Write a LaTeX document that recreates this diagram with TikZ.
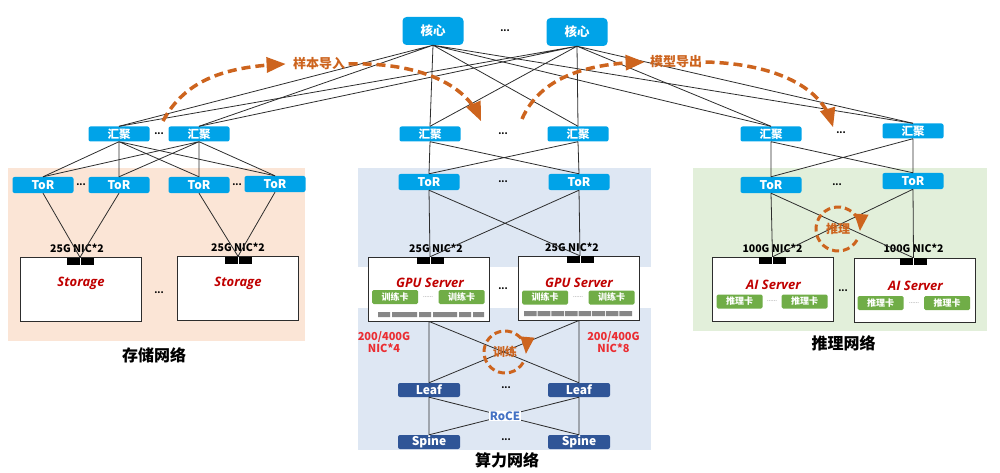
\documentclass[tikz,border=0pt]{standalone}
\usepackage{fontspec}
\setmainfont{Noto Sans CJK SC}
\newfontfamily\srvfont{Open Sans}
\usetikzlibrary{shapes.geometric, arrows, positioning}

\definecolor{swblue}{RGB}{0,163,232}
\definecolor{leafblue}{RGB}{47,85,151}
\definecolor{flowor}{RGB}{205,100,30}
\definecolor{stobg}{RGB}{251,229,214}
\definecolor{gpubg}{RGB}{222,231,243}
\definecolor{aibg}{RGB}{226,239,218}
\definecolor{cardgr}{RGB}{112,173,71}
\definecolor{srvred}{RGB}{192,0,0}
\definecolor{nicred}{RGB}{235,45,50}
\definecolor{roceblue}{RGB}{68,114,196}
\definecolor{portgray}{RGB}{135,135,135}
\definecolor{linkgray}{RGB}{45,45,45}

\tikzstyle{core} = [rectangle, fill=swblue, rounded corners=4pt, minimum width=61pt, minimum height=28pt, inner sep=0pt, text=white, font=\bfseries\fontsize{12.5}{13}\selectfont]
\tikzstyle{agg} = [rectangle, fill=swblue, rounded corners=2pt, minimum width=61pt, minimum height=15pt, inner sep=0pt, text=white, font=\bfseries\fontsize{11.5}{12}\selectfont]
\tikzstyle{tor} = [agg, minimum height=16pt, font=\bfseries\fontsize{12}{12}\selectfont]
\tikzstyle{fabric} = [agg, fill=leafblue, minimum width=62pt, minimum height=14pt, font=\bfseries\fontsize{12}{12}\selectfont]
\tikzstyle{server} = [rectangle, draw=linkgray, line width=0.9pt, fill=white, minimum width=121pt, minimum height=64pt]
\tikzstyle{nic} = [rectangle, fill=black, minimum width=27pt, minimum height=7pt, inner sep=0pt, path picture={\draw[white, line width=1pt] (path picture bounding box.north) -- (path picture bounding box.south);}]
\tikzstyle{card} = [rectangle, fill=cardgr, rounded corners=1.5pt, minimum width=46pt, minimum height=14pt, inner sep=0pt, text=white, font=\bfseries\fontsize{9}{9}\selectfont]
\tikzstyle{srvname} = [inner sep=0pt, text=srvred, font=\srvfont\bfseries\itshape\fontsize{13}{14}\selectfont]
\tikzstyle{niclabel} = [inner sep=0pt, font=\bfseries\fontsize{10.5}{10.5}\selectfont]
\tikzstyle{speed} = [inner sep=0pt, align=center, text=nicred, font=\bfseries\fontsize{11}{12}\selectfont]
\tikzstyle{ellip} = [inner sep=0pt, font=\bfseries\fontsize{9}{9}\selectfont]
\tikzstyle{carddots} = [inner sep=0pt, text=black!60, font=\fontsize{6}{6}\selectfont]
\tikzstyle{nettitle} = [font=\bfseries\fontsize{16}{16}\selectfont]
\tikzstyle{link} = [draw=linkgray, line width=0.8pt]
\tikzstyle{flow} = [draw=flowor, line width=3.5pt, dash pattern=on 9pt off 5pt, -triangle 45]
\tikzstyle{loop} = [draw=flowor, line width=3pt, dash pattern=on 7pt off 4pt, -triangle 45]
\tikzstyle{flowlabel} = [text=flowor, font=\bfseries\fontsize{13}{13}\selectfont]
\tikzstyle{port} = [fill=portgray]

\begin{document}
\begin{tikzpicture}[x=1pt, y=-1pt]
\useasboundingbox (0,0) rectangle (1000,473);

    % Network areas
    \fill[stobg] (8,168) rectangle (305,341);
    \fill[gpubg] (358,168) rectangle (651,267);
    \fill[gpubg] (358,308) rectangle (651,450);
    \fill[aibg] (693,168) rectangle (987,331);

    % Core
    \node (core1) [core] at (433,31) {核心};
    \node (core2) [core] at (577,32) {核心};
    \node (coredots) [ellip] at (505,31) {...};

    % Aggregation
    \node (aggS1) [agg] at (119,134) {汇聚};
    \node (aggS2) [agg] at (199,134) {汇聚};
    \node (aggG1) [agg] at (430,134) {汇聚};
    \node (aggG2) [agg] at (578,134) {汇聚};
    \node (aggA1) [agg] at (771,134) {汇聚};
    \node (aggA2) [agg] at (913,131) {汇聚};
    \node [ellip] at (159,134) {...};
    \node [ellip] at (503,134) {...};
    \node [ellip] at (841,133) {...};

    % ToR
    \node (torS1) [tor] at (43,185) {ToR};
    \node (torS2) [tor] at (119,185) {ToR};
    \node (torS3) [tor] at (199,185) {ToR};
    \node (torS4) [tor] at (275,184) {ToR};
    \node (torG1) [tor] at (429,182) {ToR};
    \node (torG2) [tor] at (579,182) {ToR};
    \node (torA1) [tor] at (771,185) {ToR};
    \node (torA2) [tor] at (913,181) {ToR};
    \node [ellip] at (81,185) {...};
    \node [ellip] at (237,185) {...};
    \node [ellip] at (503,182) {...};
    \node [ellip] at (837,185) {...};

    % Storage servers
    \node (sto1) [server] at (81,289.5) {};
    \node (sto2) [server] at (238,288.5) {};
    \node (nS1) [nic] at (80,261) {};
    \node (nS2) [nic] at (238,260) {};
    \node [niclabel, above=4pt of nS1, xshift=-3pt] {25G NIC*2};
    \node [niclabel, above=4pt of nS2] {25G NIC*2};
    \node [srvname] at (81,283) {Storage};
    \node [srvname] at (238,283) {Storage};
    \node [ellip] at (159,293) {...};

    % GPU servers
    \node (gS1) [server] at (429,289) {};
    \node (gS2) [server] at (579,288) {};
    \node (nG1) [nic] at (430,260.5) {};
    \node (nG2) [nic] at (580,259.5) {};
    \node [niclabel, above=4pt of nG1, xshift=6pt] {25G NIC*2};
    \node [niclabel, above=4pt of nG2, xshift=-8pt] {25G NIC*2};
    \node [srvname] at (430,283) {GPU Server};
    \node [srvname] at (579,283) {GPU Server};
    \node (cG1a) [card] at (395,297) {训练卡};
    \node (cG1b) [card] at (461.5,297) {训练卡};
    \node (cG2a) [card] at (545,297.5) {训练卡};
    \node (cG2b) [card] at (611.5,297.5) {训练卡};
    \node [carddots] at (428,297) {......};
    \node [carddots] at (578,297.5) {......};
    \node [ellip] at (503,289) {...};
    \fill[port] (378,312) rectangle (390,317) (392,312) rectangle (417,317)
        (419,312) rectangle (431,317) (433,312) rectangle (457,317)
        (459,312) rectangle (471,317) (473,312) rectangle (484,317);
    \fill[port] (524,311) rectangle (536.6,316) (537.6,311) rectangle (550.3,316)
        (551.3,311) rectangle (563.9,316) (564.9,311) rectangle (577.5,316)
        (578.5,311) rectangle (591.1,316) (592.1,311) rectangle (604.8,316)
        (605.8,311) rectangle (618.4,316) (619.4,311) rectangle (632,316);
    \node [speed] at (384,342) {200/400G\\NIC*4};
    \node [speed] at (613.5,342) {200/400G\\NIC*8};

    % Leaf and Spine
    \node (leaf1) [fabric] at (429,390) {Leaf};
    \node (leaf2) [fabric] at (579,390) {Leaf};
    \node (spine1) [fabric] at (429,442) {Spine};
    \node (spine2) [fabric] at (579,442) {Spine};
    \node [ellip] at (506,388) {...};
    \node [ellip] at (506,440) {...};

    % AI servers
    \node (aS1) [server] at (772.5,289) {};
    \node (aS2) [server] at (914.5,290) {};
    \node (nA1) [nic] at (772.5,260.5) {};
    \node (nA2) [nic] at (913.5,261.5) {};
    \node [niclabel, above=4pt of nA1] {100G NIC*2};
    \node [niclabel, above=5pt of nA2] {100G NIC*2};
    \node [srvname] at (773.5,285) {AI Server};
    \node [srvname] at (915.5,286) {AI Server};
    \node (cA1a) [card] at (739.5,301.5) {推理卡};
    \node (cA1b) [card] at (804.5,301.5) {推理卡};
    \node (cA2a) [card] at (880.5,303) {推理卡};
    \node (cA2b) [card] at (947,303) {推理卡};
    \node [carddots] at (772,301.5) {......};
    \node [carddots] at (914,303) {......};
    \node [ellip] at (843,291) {...};

    % Network titles
    \node (tS) [nettitle] at (154,355) {存储网络};
    \node (tG) [nettitle] at (507,460) {算力网络};
    \node (tA) [nettitle] at (843.5,343) {推理网络};

    % Core to aggregation
    \draw [link] (core1.south) -- (aggS1.north) (core1.south) -- (aggS2.north)
        (core1.south) -- (aggG1.north) (core1.south) -- (aggG2.north)
        (core1.south) -- (aggA1.north) (core1.south) -- (aggA2.north);
    \draw [link] (core2.south) -- (aggS1.north) (core2.south) -- (aggS2.north)
        (core2.south) -- (aggG1.north) (core2.south) -- (aggG2.north)
        (core2.south) -- (aggA1.north) (core2.south) -- (aggA2.north);

    % Aggregation to ToR
    \draw [link] (aggS1.south) -- (torS1.north) (aggS1.south) -- (torS2.north)
        (aggS1.south) -- (torS3.north) (aggS1.south) -- (torS4.north);
    \draw [link] (aggS2.south) -- (torS1.north) (aggS2.south) -- (torS2.north)
        (aggS2.south) -- (torS3.north) (aggS2.south) -- (torS4.north);
    \draw [link] (aggG1.south) -- (torG1.north) (aggG1.south) -- (torG2.north)
        (aggG2.south) -- (torG1.north) (aggG2.south) -- (torG2.north);
    \draw [link] (aggA1.south) -- (torA1.north) (aggA1.south) -- (torA2.north)
        (aggA2.south) -- (torA1.north) (aggA2.south) -- (torA2.north);

    % ToR to servers
    \draw [link] (torS1.south) -- (nS1.north) (torS2.south) -- (nS1.north)
        (torS3.south) -- (nS2.north) (torS4.south) -- (nS2.north);
    \draw [link] (torG1.south) -- (nG1.north) (torG1.south) -- (nG2.north)
        (torG2.south) -- (nG1.north) (torG2.south) -- (nG2.north);
    \draw [link] (torA1.south) -- (nA1.north) (torA1.south) -- (nA2.north)
        (torA2.south) -- (nA1.north) (torA2.south) -- (nA2.north);

    % GPU servers to Leaf, Leaf to Spine
    \draw [link] (gS1.south) -- (leaf1.north) (gS1.south) -- (leaf2.north)
        (gS2.south) -- (leaf1.north) (gS2.south) -- (leaf2.north);
    \draw [link] (leaf1.south) -- (spine1.north) (leaf1.south) -- (spine2.north)
        (leaf2.south) -- (spine1.north) (leaf2.south) -- (spine2.north);
    \node (roce) [fill=white, inner sep=1pt, text=roceblue, font=\bfseries\fontsize{11.5}{11.5}\selectfont] at (505,416) {RoCE};

    % Data flows
    \coordinate (impsrc) at (163,121);
    \coordinate (impdst) at (481,121);
    \coordinate (expsrc) at (522,119);
    \coordinate (expdst) at (833,127);
    \node (imp) [flowlabel] at (319,64) {样本导入};
    \node (exp) [flowlabel] at (676,62) {模型导出};
    \draw [flow] (impsrc) .. controls (185,80) and (225,67) .. ([xshift=-4pt]imp.west);
    \draw [flow] (imp.east) .. controls (420,62) and (465,85) .. (impdst);
    \draw [flow] (expsrc) .. controls (540,78) and (585,64) .. ([xshift=-2pt]exp.west);
    \draw [flow] (exp.east) .. controls (780,64) and (822,90) .. (expdst);

    % Training and inference loops
    \node (train) [flowlabel, font=\bfseries\fontsize{12}{12}\selectfont] at (505,352) {训练};
    \node (infer) [flowlabel, font=\bfseries\fontsize{12}{12}\selectfont] at (838,229) {推理};
    \draw [loop] ([shift={(330:21pt)}]train.center) arc[start angle=330, end angle=-5, radius=21pt];
    \draw [loop] ([shift={(330:22pt)}]infer.center) arc[start angle=330, end angle=-5, radius=22pt];

\end{tikzpicture}
\end{document}
